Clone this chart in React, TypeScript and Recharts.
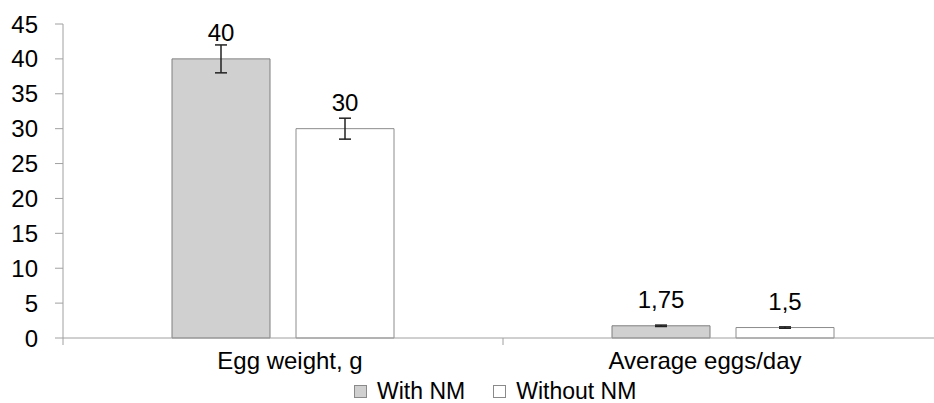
import { BarChart, Bar, XAxis, YAxis, ErrorBar, LabelList, Legend } from "recharts";

const categories = ["Egg weight, g", "Average eggs/day"];
const withNM = [40, 1.75];
const withoutNM = [30, 1.5];
const withNMError = [2, 0.1];
const withoutNMError = [1.5, 0.1];
const yTicks = [0, 5, 10, 15, 20, 25, 30, 35, 40, 45];

const FONT = "'Liberation Sans', Arial, sans-serif";
const AXIS = "#a0a0a0";
// category labels in the original sit a little off their bar groups
const LABEL_SHIFT = [7, -18];

const data = categories.map((name, i) => ({
  name,
  withNM: withNM[i],
  withoutNM: withoutNM[i],
  withNMError: withNMError[i],
  withoutNMError: withoutNMError[i],
}));

const commaDecimal = (v: number) => String(v).replace(".", ",");

function CategoryTick(props: any) {
  const { x, y, payload, index } = props;
  const half = payload?.offset ?? 220;
  const i = payload?.index ?? index ?? 0;
  return (
    <g>
      <line x1={x - half} y1={y} x2={x - half} y2={y + 7} stroke={AXIS} />
      <text
        x={x + (LABEL_SHIFT[i] ?? 0)}
        y={y + 14}
        dy="0.71em"
        textAnchor="middle"
        fontSize={24}
        fontFamily={FONT}
        fill="#000"
      >
        {payload.value}
      </text>
    </g>
  );
}

function LegendBox() {
  const items = [
    { label: "With NM", fill: "#d0d0d0", stroke: "#8a8a8a" },
    { label: "Without NM", fill: "#ffffff", stroke: "#8a8a8a" },
  ];
  return (
    <div
      style={{
        display: "flex",
        alignItems: "center",
        paddingLeft: 354,
        marginTop: 10,
        fontFamily: FONT,
        fontSize: 23,
        color: "#000",
        lineHeight: "26px",
      }}
    >
      {items.map((it) => (
        <div key={it.label} style={{ display: "flex", alignItems: "center", marginRight: 28 }}>
          <span
            style={{
              display: "inline-block",
              width: 11,
              height: 11,
              background: it.fill,
              border: `1px solid ${it.stroke}`,
              marginRight: 10,
            }}
          />
          <span>{it.label}</span>
        </div>
      ))}
    </div>
  );
}

export default function App() {
  return (
    <div
      style={{
        position: "absolute",
        left: 0,
        top: 0,
        width: 934,
        height: 403,
        overflow: "hidden",
        background: "#fff",
        fontFamily: FONT,
      }}
    >
      <BarChart
        width={944}
        height={403}
        data={data}
        margin={{ top: 24, right: 1, bottom: 0, left: 0 }}
        barSize={98}
        barGap={26}
      >
        <YAxis
          width={63}
          domain={[0, 45]}
          ticks={yTicks}
          interval={0}
          tickSize={8}
          tickMargin={17}
          axisLine={{ stroke: AXIS }}
          tickLine={{ stroke: AXIS }}
          tick={{ fill: "#000", fontSize: 24, fontFamily: FONT }}
        />
        <XAxis
          dataKey="name"
          height={30}
          tickSize={0}
          tickMargin={0}
          axisLine={{ stroke: AXIS }}
          tickLine={false}
          tick={<CategoryTick />}
          interval={0}
        />
        <Legend verticalAlign="bottom" height={35} content={<LegendBox />} wrapperStyle={{ left: 0, width: 944 }} />
        <Bar dataKey="withNM" fill="#d0d0d0" stroke="#7f7f7f" strokeWidth={1} isAnimationActive={false}>
          <ErrorBar dataKey="withNMError" width={6} stroke="#222" strokeWidth={1.5} />
          <LabelList
            dataKey="withNM"
            position="top"
            offset={18}
            formatter={commaDecimal}
            fill="#000"
            fontSize={24}
            fontFamily={FONT}
          />
        </Bar>
        <Bar dataKey="withoutNM" fill="#ffffff" stroke="#8c8c8c" strokeWidth={1} isAnimationActive={false}>
          <ErrorBar dataKey="withoutNMError" width={6} stroke="#222" strokeWidth={1.5} />
          <LabelList
            dataKey="withoutNM"
            position="top"
            offset={18}
            formatter={commaDecimal}
            fill="#000"
            fontSize={24}
            fontFamily={FONT}
          />
        </Bar>
      </BarChart>
    </div>
  );
}
